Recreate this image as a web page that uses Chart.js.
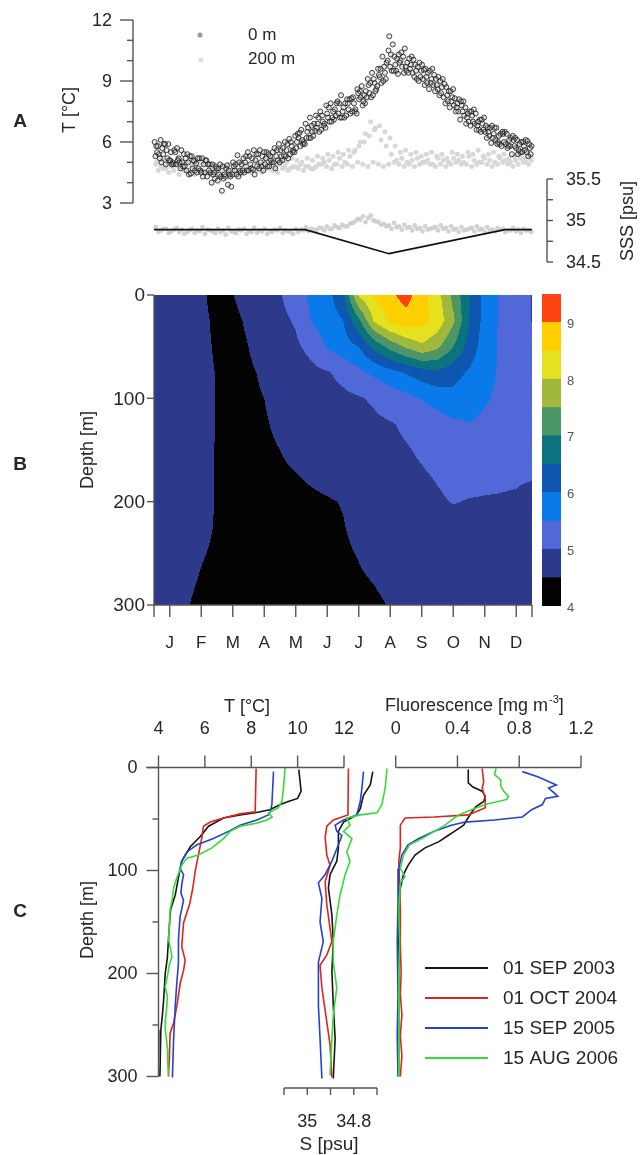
<!DOCTYPE html>
<html>
<head>
<meta charset="utf-8">
<title>Seasonal temperature, salinity and fluorescence</title>
<script src="https://cdn.jsdelivr.net/npm/chart.js@4.4.1/dist/chart.umd.min.js"></script>
<style>
  html, body { margin: 0; padding: 0; background: #ffffff; }
  #fig { position: relative; width: 640px; height: 1155px; overflow: hidden; }
  #fig canvas { position: absolute; left: 0; top: 0; }
</style>
</head>
<body>
<div id="fig">
  <canvas id="panelA" width="640" height="1155"></canvas>
  <canvas id="panelB" width="640" height="1155"></canvas>
  <canvas id="panelBar" width="640" height="1155"></canvas>
  <canvas id="panelC" width="640" height="1155"></canvas>
</div>
<script>
// ---------------------------------------------------------------------------
// Panel A: temperature at 0 m and 200 m (5-day samples, several records),
// sea-surface salinity samples and the monthly SSS curve
// ---------------------------------------------------------------------------
const monthLabels = ['J', 'F', 'M', 'A', 'M', 'J', 'J', 'A', 'S', 'O', 'N', 'D'];
const sampleStepDays = 5;

const temp0mA = [6.0, 5.2, 5.9, 5.1, 5.5, 4.7, 5.2, 4.45, 4.95, 4.5, 5.1, 4.0, 4.7, 3.6, 4.85, 4.4, 5.35, 4.6, 5.5, 4.65,
  5.4, 4.6, 5.4, 5.0, 5.9, 5.35, 6.15, 5.5, 6.45, 5.9, 7.2, 6.55, 7.5, 6.7, 7.9, 7.3, 8.3, 7.3, 8.15, 7.4,
  8.75, 8.2, 9.4, 8.75, 10.2, 10.0, 10.8, 9.35, 10.2, 9.4, 10.05, 9.0, 9.55, 8.6, 9.3, 8.3, 8.85, 7.7, 8.15, 7.1,
  7.7, 6.8, 7.4, 6.5, 6.8, 5.95, 6.7, 5.8, 6.4, 5.4, 6.1, 5.5, 6.05];
const temp0mB = [5.3, 6.1, 4.9, 5.5, 4.9, 5.6, 4.6, 5.3, 4.5, 5.2, 4.3, 4.9, 4.1, 4.8, 3.9, 5.0, 4.3, 5.2, 4.6, 5.6,
  4.7, 5.5, 4.8, 5.7, 5.0, 6.0, 5.4, 6.3, 5.8, 6.9, 6.2, 7.3, 6.6, 7.8, 7.0, 7.9, 7.2, 8.1, 7.5, 8.6,
  7.8, 9.1, 8.3, 9.6, 9.0, 10.5, 9.5, 10.3, 9.4, 10.1, 9.2, 9.9, 8.8, 9.5, 8.5, 9.0, 7.9, 8.5, 7.5, 8.0,
  6.9, 7.5, 6.6, 7.1, 6.2, 6.8, 5.9, 6.5, 5.7, 6.3, 5.4, 6.0, 5.3];
const temp0mC = [5.8, 5.0, 5.6, 4.9, 5.7, 5.0, 5.4, 4.7, 5.2, 4.3, 4.9, 4.4, 4.7, 4.2, 4.6, 4.8, 5.0, 4.5, 5.3, 4.4,
  5.6, 4.9, 5.3, 4.7, 5.6, 5.3, 6.0, 5.7, 6.6, 6.2, 6.8, 6.7, 7.3, 7.4, 7.2, 8.0, 7.5, 7.9, 8.2, 8.4,
  8.0, 8.8, 9.1, 9.3, 9.7, 11.2, 10.2, 9.9, 10.6, 9.6, 9.8, 9.2, 9.6, 8.9, 9.1, 8.4, 8.7, 8.0, 7.7, 7.8,
  7.2, 7.3, 6.8, 6.9, 6.7, 6.2, 6.0, 6.4, 5.8, 6.1, 5.6, 5.8, 5.9];
const temp0mD = [5.5, 5.7, 5.2, 5.0, 5.1, 4.8, 5.0, 5.1, 4.7, 4.9, 4.6, 4.5, 4.4, 4.4, 4.4, 4.6, 4.6, 5.0, 4.9, 5.1,
  5.0, 5.2, 5.1, 5.3, 5.3, 5.6, 5.8, 6.0, 6.1, 6.5, 6.5, 6.9, 7.0, 7.2, 7.5, 7.4, 7.7, 7.6, 7.9, 8.1,
  8.3, 8.4, 8.9, 9.2, 9.4, 9.7, 9.8, 10.0, 9.7, 9.8, 9.5, 9.5, 9.2, 9.1, 8.8, 8.7, 8.3, 8.2, 7.9, 7.5,
  7.4, 7.0, 7.0, 6.6, 6.5, 6.4, 6.3, 6.0, 6.1, 5.8, 5.9, 5.6, 5.7];
const temp0mE = [5.8, 5.4, 5.9, 4.9, 5.2, 5.4, 4.4, 5.05, 5.2, 4.5, 4.9, 4.2, 4.9, 4.3, 4.3, 4.9, 4.5, 5.3, 4.7, 5.4,
  4.8, 5.5, 5.0, 5.6, 5.1, 5.9, 5.5, 6.4, 5.9, 6.7, 6.3, 7.2, 6.8, 7.7, 7.1, 7.9, 7.2, 8.1, 7.5, 8.5,
  7.9, 8.9, 8.5, 9.6, 9.1, 10.3, 9.5, 10.4, 9.5, 10.2, 9.1, 9.8, 8.9, 9.6, 8.6, 9.1, 8.0, 8.6, 7.5, 8.0,
  7.0, 7.6, 6.6, 7.2, 6.3, 6.7, 5.9, 6.5, 5.8, 6.2, 5.5, 6.1, 5.4];
const temp0mF = [5.4, 5.9, 5.1, 5.6, 5.0, 4.8, 5.3, 4.6, 4.6, 5.1, 4.5, 4.8, 4.3, 4.7, 3.8, 4.4, 4.9, 4.6, 5.2, 4.8,
  5.3, 4.8, 5.5, 5.1, 5.7, 5.2, 5.6, 6.2, 6.0, 6.2, 6.9, 6.5, 6.9, 7.0, 7.6, 7.2, 7.9, 7.4, 7.6, 8.2,
  8.5, 8.2, 8.6, 8.9, 9.9, 9.5, 10.1, 9.7, 9.9, 9.4, 9.7, 9.1, 9.4, 8.8, 9.2, 8.2, 8.5, 7.8, 8.1, 7.3,
  7.5, 6.9, 7.1, 6.5, 6.7, 6.1, 6.4, 5.9, 6.2, 5.7, 6.0, 5.5, 5.8];

const temp200mA = [4.9, 4.8, 4.7, 4.8, 4.9, 4.7, 4.6, 4.8, 4.7, 4.6, 4.5, 4.7, 4.6, 4.5, 4.6, 4.7, 4.6, 4.8, 4.7, 4.6,
  4.8, 4.7, 4.8, 4.7, 4.9, 4.8, 4.7, 4.8, 4.9, 4.8, 4.7, 4.8, 4.9, 4.8, 4.7, 4.9, 4.8, 4.9, 4.8, 5.0,
  4.9, 4.8, 5.0, 4.9, 4.8, 4.9, 5.0, 4.9, 4.8, 4.9, 4.8, 4.9, 5.0, 4.9, 4.8, 4.9, 4.8, 4.9, 5.0, 4.9,
  4.9, 4.8, 4.9, 5.0, 4.9, 4.8, 4.9, 5.0, 4.9, 4.8, 4.9, 5.0, 4.9];
const temp200mB = [5.0, 5.1, 4.9, 5.0, 5.2, 4.9, 5.0, 4.8, 5.0, 4.9, 4.8, 4.9, 4.7, 4.8, 4.9, 4.8, 5.0, 4.9, 4.8, 5.0,
  4.9, 5.1, 5.0, 4.9, 5.1, 5.0, 5.2, 5.1, 5.0, 5.2, 5.1, 5.3, 5.2, 5.4, 5.3, 5.5, 5.4, 5.6, 5.5, 5.8,
  6.0, 6.3, 6.6, 6.8, 6.5, 6.2, 5.8, 5.5, 5.6, 5.4, 5.5, 5.3, 5.4, 5.5, 5.3, 5.4, 5.2, 5.5, 5.4, 5.3,
  5.5, 5.4, 5.6, 5.3, 5.4, 5.5, 5.3, 5.4, 5.2, 5.3, 5.4, 5.2, 5.3];
const temp200mC = [4.6, 4.7, 4.5, 4.6, 4.4, 4.6, 4.5, 4.4, 4.6, 4.5, 4.4, 4.5, 4.3, 4.5, 4.4, 4.5, 4.4, 4.6, 4.5, 4.6,
  4.5, 4.7, 4.6, 4.5, 4.7, 4.6, 4.8, 4.7, 4.6, 4.8, 4.7, 4.9, 5.0, 5.1, 4.9, 5.2, 5.0, 5.3, 5.6, 6.0,
  6.4, 7.0, 6.7, 6.1, 5.8, 5.4, 5.1, 5.2, 5.0, 5.1, 5.2, 5.0, 5.1, 4.9, 5.2, 5.1, 5.0, 5.2, 5.1, 5.0,
  5.3, 5.1, 5.0, 5.2, 5.1, 5.0, 5.2, 5.1, 5.0, 5.1, 5.2, 5.0, 5.1];

const sssA = [34.92, 34.88, 34.90, 34.87, 34.91, 34.89, 34.86, 34.90, 34.88, 34.92, 34.89, 34.87, 34.90, 34.88, 34.91,
  34.86, 34.89, 34.90, 34.87, 34.91, 34.88, 34.90, 34.87, 34.89, 34.91, 34.88, 34.86, 34.90, 34.89, 34.92,
  34.90, 34.88, 34.91, 34.93, 34.90, 34.92, 34.95, 34.93, 34.97, 35.02, 35.05, 35.03, 35.00, 34.98, 34.96,
  34.94, 34.97, 34.93, 34.95, 34.92, 34.94, 34.91, 34.93, 34.90, 34.92, 34.94, 34.91, 34.93, 34.90, 34.92,
  34.89, 34.91, 34.93, 34.90, 34.92, 34.89, 34.91, 34.90, 34.88, 34.91, 34.89, 34.90, 34.88];
const sssB = [34.86, 34.90, 34.85, 34.89, 34.86, 34.84, 34.88, 34.85, 34.87, 34.84, 34.88, 34.85, 34.86, 34.83, 34.87,
  34.85, 34.88, 34.84, 34.86, 34.85, 34.87, 34.84, 34.86, 34.88, 34.85, 34.87, 34.84, 34.86, 34.88, 34.87,
  34.89, 34.91, 34.88, 34.90, 34.94, 34.91, 34.93, 34.96, 34.99, 35.01, 34.98, 35.06, 34.99, 34.95, 34.93,
  34.90, 34.92, 34.89, 34.91, 34.88, 34.90, 34.87, 34.89, 34.91, 34.88, 34.90, 34.87, 34.89, 34.86, 34.88,
  34.90, 34.87, 34.89, 34.86, 34.88, 34.87, 34.89, 34.86, 34.88, 34.87, 34.85, 34.88, 34.86];

const sssCurveMonth = [0, 4.8, 7.46, 11.14, 12];
const sssCurveValue = [34.89, 34.89, 34.6, 34.89, 34.89];

const tempTicksA = [3, 4, 5, 6, 7, 8, 9, 10, 11, 12];
const tempLabelTicksA = [3, 6, 9, 12];
const sssTicks = [34.5, 34.75, 35, 35.25, 35.5];
const sssLabelTicks = [34.5, 35, 35.5];

// ---------------------------------------------------------------------------
// Panel B: monthly temperature section (rows = depth, columns = month)
// ---------------------------------------------------------------------------
const contourMonths = [0, 0.5, 1, 1.5, 2, 2.5, 3, 3.5, 4, 4.5, 5, 5.5, 6, 6.5, 7, 7.5, 8, 8.5, 9, 9.5, 10, 10.5, 11, 11.5, 12];
const contourDepths = [0, 25, 50, 75, 100, 125, 150, 175, 200, 225, 250, 275, 300];
const tempAt0m   = [4.8, 4.75, 4.7, 4.56, 4.38, 4.49, 4.68, 4.85, 4.96, 5.29, 5.6, 5.8, 6.42, 8.07, 8.57, 8.9, 9.2, 8.7, 8.19, 7.35, 6.55, 5.85, 5.42, 5.19, 4.98];
const tempAt25m  = [4.75, 4.72, 4.68, 4.57, 4.44, 4.40, 4.56, 4.75, 4.88, 5.05, 5.52, 5.75, 5.98, 6.88, 8.07, 8.59, 8.8, 8.69, 8.3, 7.6, 6.5, 5.82, 5.43, 5.2, 4.99];
const tempAt50m  = [4.72, 4.68, 4.65, 4.56, 4.47, 4.38, 4.5, 4.66, 4.8, 4.92, 5.14, 5.55, 5.77, 6.0, 6.66, 7.17, 7.58, 7.9, 7.61, 7.0, 6.31, 5.75, 5.42, 5.26, 5.1];
const tempAt75m  = [4.7, 4.67, 4.63, 4.56, 4.49, 4.4, 4.45, 4.55, 4.68, 4.79, 4.88, 4.96, 5.14, 5.38, 5.61, 5.83, 6.04, 6.27, 6.41, 6.18, 5.94, 5.67, 5.44, 5.3, 5.15];
const tempAt100m = [4.7, 4.66, 4.62, 4.56, 4.49, 4.43, 4.44, 4.5, 4.58, 4.67, 4.75, 4.82, 4.89, 4.96, 5.06, 5.21, 5.36, 5.52, 5.69, 5.85, 5.7, 5.55, 5.41, 5.28, 5.15];
const tempAt125m = [4.7, 4.66, 4.62, 4.56, 4.49, 4.45, 4.44, 4.48, 4.54, 4.61, 4.68, 4.75, 4.81, 4.86, 4.92, 4.97, 5.06, 5.17, 5.28, 5.4, 5.49, 5.41, 5.32, 5.24, 5.15];
const tempAt150m = [4.7, 4.66, 4.62, 4.55, 4.49, 4.46, 4.43, 4.46, 4.5, 4.56, 4.62, 4.69, 4.75, 4.81, 4.86, 4.92, 4.97, 5.05, 5.15, 5.25, 5.35, 5.29, 5.24, 5.18, 5.12];
const tempAt175m = [4.7, 4.66, 4.62, 4.55, 4.49, 4.47, 4.45, 4.43, 4.46, 4.49, 4.53, 4.57, 4.64, 4.75, 4.8, 4.86, 4.91, 4.96, 5.03, 5.1, 5.13, 5.09, 5.06, 5.05, 5.04];
const tempAt200m = [4.68, 4.64, 4.6, 4.54, 4.49, 4.46, 4.43, 4.4, 4.42, 4.44, 4.46, 4.48, 4.51, 4.59, 4.67, 4.75, 4.82, 4.89, 4.95, 5.02, 4.98, 4.97, 4.97, 4.95, 4.84];
const tempAt225m = [4.66, 4.62, 4.58, 4.53, 4.49, 4.46, 4.43, 4.4, 4.38, 4.41, 4.43, 4.46, 4.49, 4.55, 4.61, 4.68, 4.75, 4.78, 4.8, 4.83, 4.85, 4.84, 4.83, 4.81, 4.8];
const tempAt250m = [4.64, 4.6, 4.56, 4.51, 4.48, 4.45, 4.42, 4.39, 4.36, 4.39, 4.41, 4.44, 4.47, 4.51, 4.56, 4.6, 4.65, 4.7, 4.71, 4.72, 4.73, 4.74, 4.74, 4.75, 4.76];
const tempAt275m = [4.6, 4.57, 4.53, 4.49, 4.46, 4.43, 4.4, 4.37, 4.34, 4.37, 4.39, 4.42, 4.45, 4.48, 4.51, 4.55, 4.59, 4.63, 4.67, 4.68, 4.69, 4.7, 4.7, 4.71, 4.72];
const tempAt300m = [4.58, 4.55, 4.51, 4.47, 4.44, 4.4, 4.37, 4.33, 4.3, 4.33, 4.36, 4.39, 4.41, 4.44, 4.47, 4.51, 4.54, 4.58, 4.61, 4.65, 4.66, 4.67, 4.68, 4.69, 4.7];

const tempLevels = [4, 4.5, 5, 5.5, 6, 6.5, 7, 7.5, 8, 8.5, 9, 9.5];
const levelColors = ['#030303', '#2d3a8c', '#5068d8', '#0a7aeb', '#0f56b0', '#0a737d',
                     '#4b9664', '#a0b93c', '#e6e11e', '#ffcf00', '#ff4312'];
const colorbarLabelTicks = [4, 5, 6, 7, 8, 9];
const depthTicksB = [0, 100, 200, 300];

// ---------------------------------------------------------------------------
// Panel C: CTD / fluorescence profiles on four dates
// ---------------------------------------------------------------------------
const profileDates = ['01 SEP 2003', '01 OCT 2004', '15 SEP 2005', '15 AUG 2006'];

const tempDepth2003 = [2, 23, 30, 33, 36, 41, 44, 46, 49, 57, 67, 77, 91, 107, 124, 138, 150, 167, 185, 200, 215, 226, 240, 255, 270, 285, 300];
const temp2003      = [10.05, 10.15, 10.0, 9.6, 9.25, 8.8, 8.17, 7.52, 6.8, 6.16, 5.8, 5.37, 5.0, 4.86, 4.72, 4.52, 4.48, 4.43, 4.38, 4.29, 4.25, 4.22, 4.17, 4.1, 4.08, 4.07, 4.06];
const tempDepth2004 = [1, 43, 45, 49, 53, 57, 68, 85, 101, 117, 132, 151, 174, 187, 197, 209, 232, 248, 258, 281, 300];
const temp2004      = [8.21, 8.17, 7.52, 6.8, 6.23, 5.94, 5.87, 5.72, 5.58, 5.48, 5.35, 5.08, 5.0, 5.15, 5.08, 4.94, 4.79, 4.65, 4.5, 4.47, 4.43];
const tempDepth2005 = [4, 36, 43, 46, 51, 56, 62, 69, 75, 82, 91, 98, 104, 114, 122, 129, 145, 167, 190, 209, 232, 265, 301];
const temp2005      = [8.96, 8.89, 8.82, 8.74, 8.24, 7.52, 7.02, 6.37, 5.66, 5.22, 5.0, 4.93, 5.08, 5.0, 4.97, 5.08, 4.93, 4.86, 4.86, 4.79, 4.72, 4.65, 4.6];
const tempDepth2006 = [0, 20, 33, 39, 44, 48, 51, 54, 57, 62, 69, 78, 85, 88, 95, 107, 117, 130, 138, 150, 167, 176, 184, 191, 197, 205, 213, 222, 232, 245, 255, 265, 274, 287, 299];
const temp2006      = [9.46, 9.39, 9.32, 9.17, 8.74, 8.9, 8.67, 8.24, 7.52, 7.09, 6.8, 6.3, 5.72, 5.22, 5.0, 4.79, 4.65, 4.58, 4.5, 4.48, 4.43, 4.52, 4.58, 4.47, 4.43, 4.36, 4.29, 4.38, 4.36, 4.3, 4.29, 4.35, 4.39, 4.4, 4.43];

const salDepth2003 = [4, 17, 27, 40, 46, 53, 62, 78, 91, 104, 117, 143, 169, 198, 231, 263, 302];
const sal2003      = [34.718, 34.729, 34.758, 34.772, 34.787, 34.844, 34.866, 34.866, 34.873, 34.902, 34.909, 34.894, 34.888, 34.894, 34.888, 34.880, 34.888];
const salDepth2004 = [1, 46, 51, 57, 68, 85, 95, 111, 133, 156, 169, 182, 192, 214, 247, 269, 301];
const sal2004      = [34.823, 34.825, 34.888, 34.916, 34.923, 34.916, 34.902, 34.923, 34.916, 34.902, 34.894, 34.916, 34.945, 34.937, 34.916, 34.902, 34.894];
const salDepth2005 = [4, 20, 33, 46, 51, 56, 62, 66, 75, 91, 104, 112, 127, 150, 169, 189, 231, 263, 302];
const sal2005      = [34.758, 34.765, 34.772, 34.787, 34.844, 34.880, 34.873, 34.851, 34.866, 34.894, 34.923, 34.952, 34.937, 34.945, 34.931, 34.952, 34.952, 34.945, 34.937];
const salDepth2006 = [1, 20, 36, 44, 46, 49, 56, 62, 69, 82, 91, 104, 124, 143, 169, 189, 214, 240, 263, 299];
const sal2006      = [34.657, 34.665, 34.679, 34.700, 34.772, 34.830, 34.816, 34.844, 34.808, 34.830, 34.816, 34.837, 34.859, 34.873, 34.888, 34.888, 34.873, 34.888, 34.894, 34.902];

const fluoDepth2003 = [2, 15, 19, 23, 28, 33, 38, 44, 51, 56, 62, 67, 72, 78, 85, 95, 104, 117, 140, 170, 200, 230, 260, 300];
const fluo2003      = [0.47, 0.47, 0.50, 0.56, 0.58, 0.57, 0.52, 0.49, 0.46, 0.44, 0.38, 0.33, 0.28, 0.19, 0.125, 0.08, 0.05, 0.03, 0.02, 0.02, 0.015, 0.02, 0.02, 0.02];
const fluoDepth2004 = [1, 14, 20, 30, 39, 46, 48, 49, 56, 78, 91, 110, 140, 170, 200, 220, 240, 260, 280, 300];
const fluo2004      = [0.56, 0.57, 0.56, 0.58, 0.58, 0.47, 0.25, 0.06, 0.03, 0.03, 0.02, 0.025, 0.03, 0.03, 0.035, 0.03, 0.04, 0.03, 0.04, 0.03];
const fluoDepth2005 = [4, 9, 17, 20, 24, 28, 30, 36, 41, 48, 51, 53, 56, 62, 69, 75, 85, 98, 130, 170, 220, 260, 300];
const fluo2005      = [0.82, 0.92, 1.04, 0.99, 1.02, 1.05, 0.97, 0.95, 0.88, 0.82, 0.64, 0.45, 0.36, 0.25, 0.15, 0.08, 0.04, 0.02, 0.015, 0.01, 0.015, 0.01, 0.015];
const fluoDepth2006 = [1, 7, 12, 18, 23, 28, 31, 36, 41, 46, 49, 56, 62, 69, 75, 85, 98, 106, 112, 140, 170, 200, 240, 300];
const fluo2006      = [0.65, 0.64, 0.68, 0.68, 0.70, 0.73, 0.72, 0.58, 0.49, 0.41, 0.38, 0.32, 0.25, 0.17, 0.09, 0.05, 0.03, 0.06, 0.03, 0.02, 0.025, 0.02, 0.02, 0.02];

const tempTicksC = [4, 6, 8, 10, 12];
const salTicksC = [35.1, 35.0, 34.9, 34.8, 34.7];
const salLabelTicksC = [35.0, 34.8];
const fluoTicksC = [0, 0.4, 0.8, 1.2];
const depthTicksC = [0, 50, 100, 150, 200, 250, 300];
const depthLabelTicksC = [0, 100, 200, 300];

// ---------------------------------------------------------------------------
// Shared styling and helpers
// ---------------------------------------------------------------------------
const FONT = "'Liberation Sans', Arial, Helvetica, sans-serif";
const INK = '#262626';
const AXIS = '#555555';
const profileColors = ['#151515', '#e2231c', '#2342cf', '#35dc35'];
const PAGE_W = 640, PAGE_H = 1155;

Chart.defaults.font.family = FONT;

function valueSpan(v0, p0, v1, p1, pA, pB) {
  // values found at pixels pA and pB for the linear map (p0 -> v0, p1 -> v1)
  const k = (v1 - v0) / (p1 - p0);
  return [v0 + (pA - p0) * k, v0 + (pB - p0) * k];
}
function frame(left, right, top, bottom) {
  return { left: left, right: PAGE_W - right, top: top, bottom: PAGE_H - bottom };
}
function seg(ctx, x1, y1, x2, y2) {
  ctx.beginPath(); ctx.moveTo(x1, y1); ctx.lineTo(x2, y2); ctx.stroke();
}
function label(ctx, str, x, y, o) {
  o = o || {};
  ctx.save();
  ctx.font = (o.bold ? 'bold ' : '') + (o.size || 18) + 'px ' + FONT;
  ctx.fillStyle = o.color || INK;
  ctx.textAlign = o.align || 'center';
  ctx.textBaseline = 'middle';
  ctx.translate(x, y);
  if (o.rotate) ctx.rotate(o.rotate);
  ctx.fillText(str, 0, 0);
  ctx.restore();
}
function fmt(v) { return String(Math.round(v * 100) / 100); }
function pairs(xs, ys) { return xs.map((x, i) => ({ x: x, y: ys[i] })); }
function dailyPoints(values, offsetDays) {
  return values.map((v, i) => ({ x: (i * sampleStepDays + offsetDays) / 365 * 12, y: v }));
}
const baseOptions = {
  responsive: false, animation: false, events: [],
  plugins: { legend: { display: false }, tooltip: { enabled: false }, title: { display: false } }
};

// ---------------------------------------------------------------------------
// Panel A chart
// ---------------------------------------------------------------------------
const A_LEFT = 154, A_RIGHT = 532, A_TOP = 20, A_BOTTOM = 264;
const sssSpan = valueSpan(35.5, 179, 34.5, 262, A_BOTTOM, A_TOP);

const surfaceStyle = { pointRadius: 2.5, borderWidth: 1, borderColor: 'rgba(32,32,32,0.85)',
                       backgroundColor: 'rgba(150,150,150,0.2)', order: 0, clip: false, yAxisID: 'yT' };
const deepStyle = { pointRadius: 2.5, borderWidth: 0, backgroundColor: 'rgba(214,214,214,0.95)',
                    order: 2, clip: false, yAxisID: 'yT' };
const sssStyle = { pointRadius: 2.4, borderWidth: 0, backgroundColor: 'rgba(205,205,205,0.9)',
                   order: 3, clip: false, yAxisID: 'yS' };

const axesA = {
  id: 'axesA',
  afterDraw(chart) {
    const ctx = chart.ctx, yT = chart.scales.yT, yS = chart.scales.yS;
    ctx.save();
    ctx.strokeStyle = AXIS; ctx.lineWidth = 1.4;
    // temperature axis
    const ax = 133;
    seg(ctx, ax, yT.getPixelForValue(3), ax, yT.getPixelForValue(12));
    tempTicksA.forEach(t => {
      const py = yT.getPixelForValue(t);
      const major = tempLabelTicksA.includes(t);
      seg(ctx, ax - (major ? 13 : 6), py, ax, py);
      if (major) label(ctx, fmt(t), ax - 21, py + 1, { align: 'right', size: 18 });
    });
    label(ctx, 'T [\u00B0C]', 70, 110, { rotate: -Math.PI / 2, size: 18 });
    label(ctx, 'A', 20, 122, { bold: true, size: 19 });
    // salinity axis
    const sx = 547;
    seg(ctx, sx, yS.getPixelForValue(34.5), sx, yS.getPixelForValue(35.5));
    sssTicks.forEach(s => {
      const py = yS.getPixelForValue(s);
      seg(ctx, sx, py, sx + 6, py);
    });
    sssLabelTicks.forEach(s => label(ctx, fmt(s), 566, yS.getPixelForValue(s) + 1, { align: 'left', size: 18 }));
    label(ctx, 'SSS [psu]', 628, 221, { rotate: -Math.PI / 2, size: 18 });
    // legend
    ctx.fillStyle = '#9a9a9a';
    ctx.beginPath(); ctx.arc(200, 35, 2.6, 0, Math.PI * 2); ctx.fill();
    ctx.fillStyle = '#dedede';
    ctx.beginPath(); ctx.arc(201, 60, 2.6, 0, Math.PI * 2); ctx.fill();
    label(ctx, '0 m', 248, 35, { align: 'left', size: 17 });
    label(ctx, '200 m', 248, 59, { align: 'left', size: 17 });
    ctx.restore();
  }
};

new Chart(document.getElementById('panelA'), {
  type: 'scatter',
  data: {
    datasets: [
      Object.assign({ label: '0 m', data: dailyPoints(temp0mA, 0.6) }, surfaceStyle),
      Object.assign({ label: '0 m', data: dailyPoints(temp0mB, 1.4) }, surfaceStyle),
      Object.assign({ label: '0 m', data: dailyPoints(temp0mC, 2.2) }, surfaceStyle),
      Object.assign({ label: '0 m', data: dailyPoints(temp0mD, 3.0) }, surfaceStyle),
      Object.assign({ label: '0 m', data: dailyPoints(temp0mE, 3.8) }, surfaceStyle),
      Object.assign({ label: '0 m', data: dailyPoints(temp0mF, 4.6) }, surfaceStyle),
      Object.assign({ label: '200 m', data: dailyPoints(temp200mA, 1.6) }, deepStyle),
      Object.assign({ label: '200 m', data: dailyPoints(temp200mB, 2.9) }, deepStyle),
      Object.assign({ label: '200 m', data: dailyPoints(temp200mC, 4.2) }, deepStyle),
      Object.assign({ label: 'SSS', data: dailyPoints(sssA, 1.8) }, sssStyle),
      Object.assign({ label: 'SSS', data: dailyPoints(sssB, 4.3) }, sssStyle),
      { type: 'line', label: 'SSS curve', data: pairs(sssCurveMonth, sssCurveValue), yAxisID: 'yS',
        borderColor: '#111111', borderWidth: 1.7, pointRadius: 0, fill: false, tension: 0, order: 1, clip: false }
    ]
  },
  options: Object.assign({}, baseOptions, {
    layout: { padding: frame(A_LEFT, A_RIGHT, A_TOP, A_BOTTOM) },
    scales: {
      x: { type: 'linear', display: false, min: 0, max: 12 },
      yT: { type: 'linear', display: false, min: 0, max: 12 },
      yS: { type: 'linear', display: false, min: sssSpan[0], max: sssSpan[1] }
    }
  }),
  plugins: [axesA]
});

// ---------------------------------------------------------------------------
// Panel B: filled temperature section
// ---------------------------------------------------------------------------
const tempGrid = [tempAt0m, tempAt25m, tempAt50m, tempAt75m, tempAt100m, tempAt125m, tempAt150m,
                  tempAt175m, tempAt200m, tempAt225m, tempAt250m, tempAt275m, tempAt300m];
const levelRGB = levelColors.map(h => [parseInt(h.slice(1, 3), 16), parseInt(h.slice(3, 5), 16), parseInt(h.slice(5, 7), 16)]);

function bracket(axis, v) {
  let i = 0;
  while (i < axis.length - 2 && v > axis[i + 1]) i++;
  const f = Math.min(1, Math.max(0, (v - axis[i]) / (axis[i + 1] - axis[i])));
  return [i, f];
}
function levelIndex(t) {
  let k = 0;
  while (k < tempLevels.length - 2 && t >= tempLevels[k + 1]) k++;
  return k;
}

const sectionField = {
  id: 'sectionField',
  beforeDatasetsDraw(chart) {
    const a = chart.chartArea, xs = chart.scales.x, ys = chart.scales.y;
    const w = Math.round(a.right - a.left), h = Math.round(a.bottom - a.top);
    const off = document.createElement('canvas');
    off.width = w; off.height = h;
    const octx = off.getContext('2d');
    const img = octx.createImageData(w, h);
    const cols = [];
    for (let i = 0; i < w; i++) cols.push(bracket(contourMonths, xs.getValueForPixel(a.left + i + 0.5)));
    for (let j = 0; j < h; j++) {
      const [r, fy] = bracket(contourDepths, ys.getValueForPixel(a.top + j + 0.5));
      const g0 = tempGrid[r], g1 = tempGrid[r + 1];
      for (let i = 0; i < w; i++) {
        const [c, fx] = cols[i];
        const t = (1 - fy) * ((1 - fx) * g0[c] + fx * g0[c + 1]) + fy * ((1 - fx) * g1[c] + fx * g1[c + 1]);
        const rgb = levelRGB[levelIndex(t)];
        const p = (j * w + i) * 4;
        img.data[p] = rgb[0]; img.data[p + 1] = rgb[1]; img.data[p + 2] = rgb[2]; img.data[p + 3] = 255;
      }
    }
    octx.putImageData(img, 0, 0);
    chart.ctx.drawImage(off, a.left, a.top);
  },
  afterDraw(chart) {
    const ctx = chart.ctx, a = chart.chartArea, xs = chart.scales.x, ys = chart.scales.y;
    ctx.save();
    ctx.strokeStyle = AXIS; ctx.lineWidth = 1.4;
    seg(ctx, a.left, a.top, a.left, a.bottom);
    seg(ctx, a.left, a.bottom, a.right, a.bottom);
    depthTicksB.forEach(d => {
      const py = ys.getPixelForValue(d);
      seg(ctx, a.left - 7, py, a.left, py);
      label(ctx, String(d), a.left - 9, py + 1, { align: 'right', size: 19 });
    });
    const tickMonths = [0].concat(monthLabels.map((m, i) => i + 0.5), [12]);
    tickMonths.forEach(m => {
      const px = xs.getPixelForValue(m);
      seg(ctx, px, a.bottom, px, a.bottom + 12);
    });
    monthLabels.forEach((m, i) => label(ctx, m, xs.getPixelForValue(i + 0.5), 643, { size: 17 }));
    label(ctx, 'Depth [m]', 88, 450, { rotate: -Math.PI / 2, size: 18 });
    label(ctx, 'B', 20, 465, { bold: true, size: 19 });
    ctx.restore();
  }
};

new Chart(document.getElementById('panelB'), {
  type: 'scatter',
  data: { datasets: [] },
  options: Object.assign({}, baseOptions, {
    layout: { padding: frame(154, 532, 295, 605) },
    scales: {
      x: { type: 'linear', display: false, min: 0, max: 12 },
      y: { type: 'linear', display: false, min: 0, max: 300, reverse: true }
    }
  }),
  plugins: [sectionField]
});

// colour key for the section
const colorbarLabels = {
  id: 'colorbarLabels',
  afterDraw(chart) {
    const ctx = chart.ctx, ys = chart.scales.y, a = chart.chartArea;
    colorbarLabelTicks.forEach(v => label(ctx, String(v), a.right + 6, ys.getPixelForValue(v) + 2,
      { align: 'left', size: 13, color: '#555555' }));
  }
};

new Chart(document.getElementById('panelBar'), {
  type: 'bar',
  data: {
    labels: ['T'],
    datasets: tempLevels.slice(0, -1).map((lo, k) => ({
      label: lo + '\u2013' + tempLevels[k + 1],
      data: [[lo, tempLevels[k + 1]]],
      backgroundColor: levelColors[k], borderWidth: 0,
      barPercentage: 1, categoryPercentage: 1
    }))
  },
  options: Object.assign({}, baseOptions, {
    layout: { padding: frame(542, 561, 294, 606) },
    scales: {
      x: { display: false, stacked: true },
      y: { type: 'linear', display: false, min: 4, max: 9.5 }
    }
  }),
  plugins: [colorbarLabels]
});

// ---------------------------------------------------------------------------
// Panel C: profiles
// ---------------------------------------------------------------------------
const C_LEFT = 150, C_RIGHT = 600, C_TOP = 767.5, C_BOTTOM = 1076.5;
const tSpan = valueSpan(4, 158.5, 12, 344, C_LEFT, C_RIGHT);
const sSpan = valueSpan(35.1, 284, 34.7, 377, C_LEFT, C_RIGHT);
const fSpan = valueSpan(0, 395.7, 1.2, 581, C_LEFT, C_RIGHT);

const tempProfiles = [[tempDepth2003, temp2003], [tempDepth2004, temp2004], [tempDepth2005, temp2005], [tempDepth2006, temp2006]];
const salProfiles = [[salDepth2003, sal2003], [salDepth2004, sal2004], [salDepth2005, sal2005], [salDepth2006, sal2006]];
const fluoProfiles = [[fluoDepth2003, fluo2003], [fluoDepth2004, fluo2004], [fluoDepth2005, fluo2005], [fluoDepth2006, fluo2006]];

function profileSets(list, axisId) {
  return list.map((p, k) => ({
    label: profileDates[k],
    data: pairs(p[1], p[0]),
    xAxisID: axisId, yAxisID: 'y',
    showLine: true, borderColor: profileColors[k], borderWidth: 1.6,
    pointRadius: 0, fill: false, tension: 0, clip: false, order: 3 - k
  }));
}

const axesC = {
  id: 'axesC',
  afterDraw(chart) {
    const ctx = chart.ctx, y = chart.scales.y, xT = chart.scales.xT, xS = chart.scales.xS, xF = chart.scales.xF;
    ctx.save();
    ctx.strokeStyle = AXIS; ctx.lineWidth = 1.4;
    const top = y.getPixelForValue(0);
    // depth axis
    const dx = xT.getPixelForValue(4);
    seg(ctx, dx, top, dx, y.getPixelForValue(300));
    depthTicksC.forEach(d => {
      const py = y.getPixelForValue(d);
      const major = depthLabelTicksC.includes(d);
      seg(ctx, dx - (major ? 12 : 6), py, dx, py);
      if (major) label(ctx, String(d), dx - 21, py + 1, { align: 'right', size: 18 });
    });
    // temperature axis (top)
    seg(ctx, dx - 12, top, xT.getPixelForValue(12), top);
    tempTicksC.forEach(t => {
      const px = xT.getPixelForValue(t);
      seg(ctx, px, top - 12, px, top);
      label(ctx, String(t), px, 729, { size: 18 });
    });
    label(ctx, 'T [\u00B0C]', 247, 707, { size: 18 });
    // salinity axis (bottom)
    const sy = y.bottom + 11.5;
    seg(ctx, xS.getPixelForValue(35.1), sy, xS.getPixelForValue(34.7), sy);
    salTicksC.forEach(s => {
      const px = xS.getPixelForValue(s);
      seg(ctx, px, sy, px, sy + 7);
    });
    salLabelTicksC.forEach(s => label(ctx, fmt(s), xS.getPixelForValue(s), 1122, { size: 18 }));
    label(ctx, 'S [psu]', 329, 1145, { size: 19 });
    // fluorescence axis (top)
    seg(ctx, xF.getPixelForValue(0), top, xF.getPixelForValue(1.2), top);
    fluoTicksC.forEach(f => {
      const px = xF.getPixelForValue(f);
      seg(ctx, px, top - 12, px, top);
      label(ctx, fmt(f), px, 729, { size: 18 });
    });
    ctx.font = '18px ' + FONT;
    ctx.fillStyle = INK; ctx.textAlign = 'left'; ctx.textBaseline = 'middle';
    const head = 'Fluorescence [mg m';
    ctx.fillText(head, 385, 706);
    let hx = 385 + ctx.measureText(head).width;
    ctx.font = '11px ' + FONT;
    ctx.fillText('-3', hx + 1, 700);
    hx += ctx.measureText('-3').width + 1;
    ctx.font = '18px ' + FONT;
    ctx.fillText(']', hx, 706);
    // legend
    profileDates.forEach((name, k) => {
      const ly = 968 + k * 30;
      ctx.strokeStyle = profileColors[k]; ctx.lineWidth = 1.8;
      seg(ctx, 425, ly, 488, ly);
      label(ctx, name, 503, ly + 1, { align: 'left', size: 19 });
    });
    label(ctx, 'Depth [m]', 88, 920, { rotate: -Math.PI / 2, size: 18 });
    label(ctx, 'C', 20, 912, { bold: true, size: 19 });
    ctx.restore();
  }
};

new Chart(document.getElementById('panelC'), {
  type: 'scatter',
  data: {
    datasets: [].concat(profileSets(tempProfiles, 'xT'), profileSets(salProfiles, 'xS'), profileSets(fluoProfiles, 'xF'))
  },
  options: Object.assign({}, baseOptions, {
    layout: { padding: frame(C_LEFT, C_RIGHT, C_TOP, C_BOTTOM) },
    scales: {
      xT: { type: 'linear', axis: 'x', display: false, min: tSpan[0], max: tSpan[1] },
      xS: { type: 'linear', axis: 'x', display: false, min: sSpan[1], max: sSpan[0], reverse: true },
      xF: { type: 'linear', axis: 'x', display: false, min: fSpan[0], max: fSpan[1] },
      y: { type: 'linear', display: false, min: 0, max: 300, reverse: true }
    }
  }),
  plugins: [axesC]
});
</script>
</body>
</html>
